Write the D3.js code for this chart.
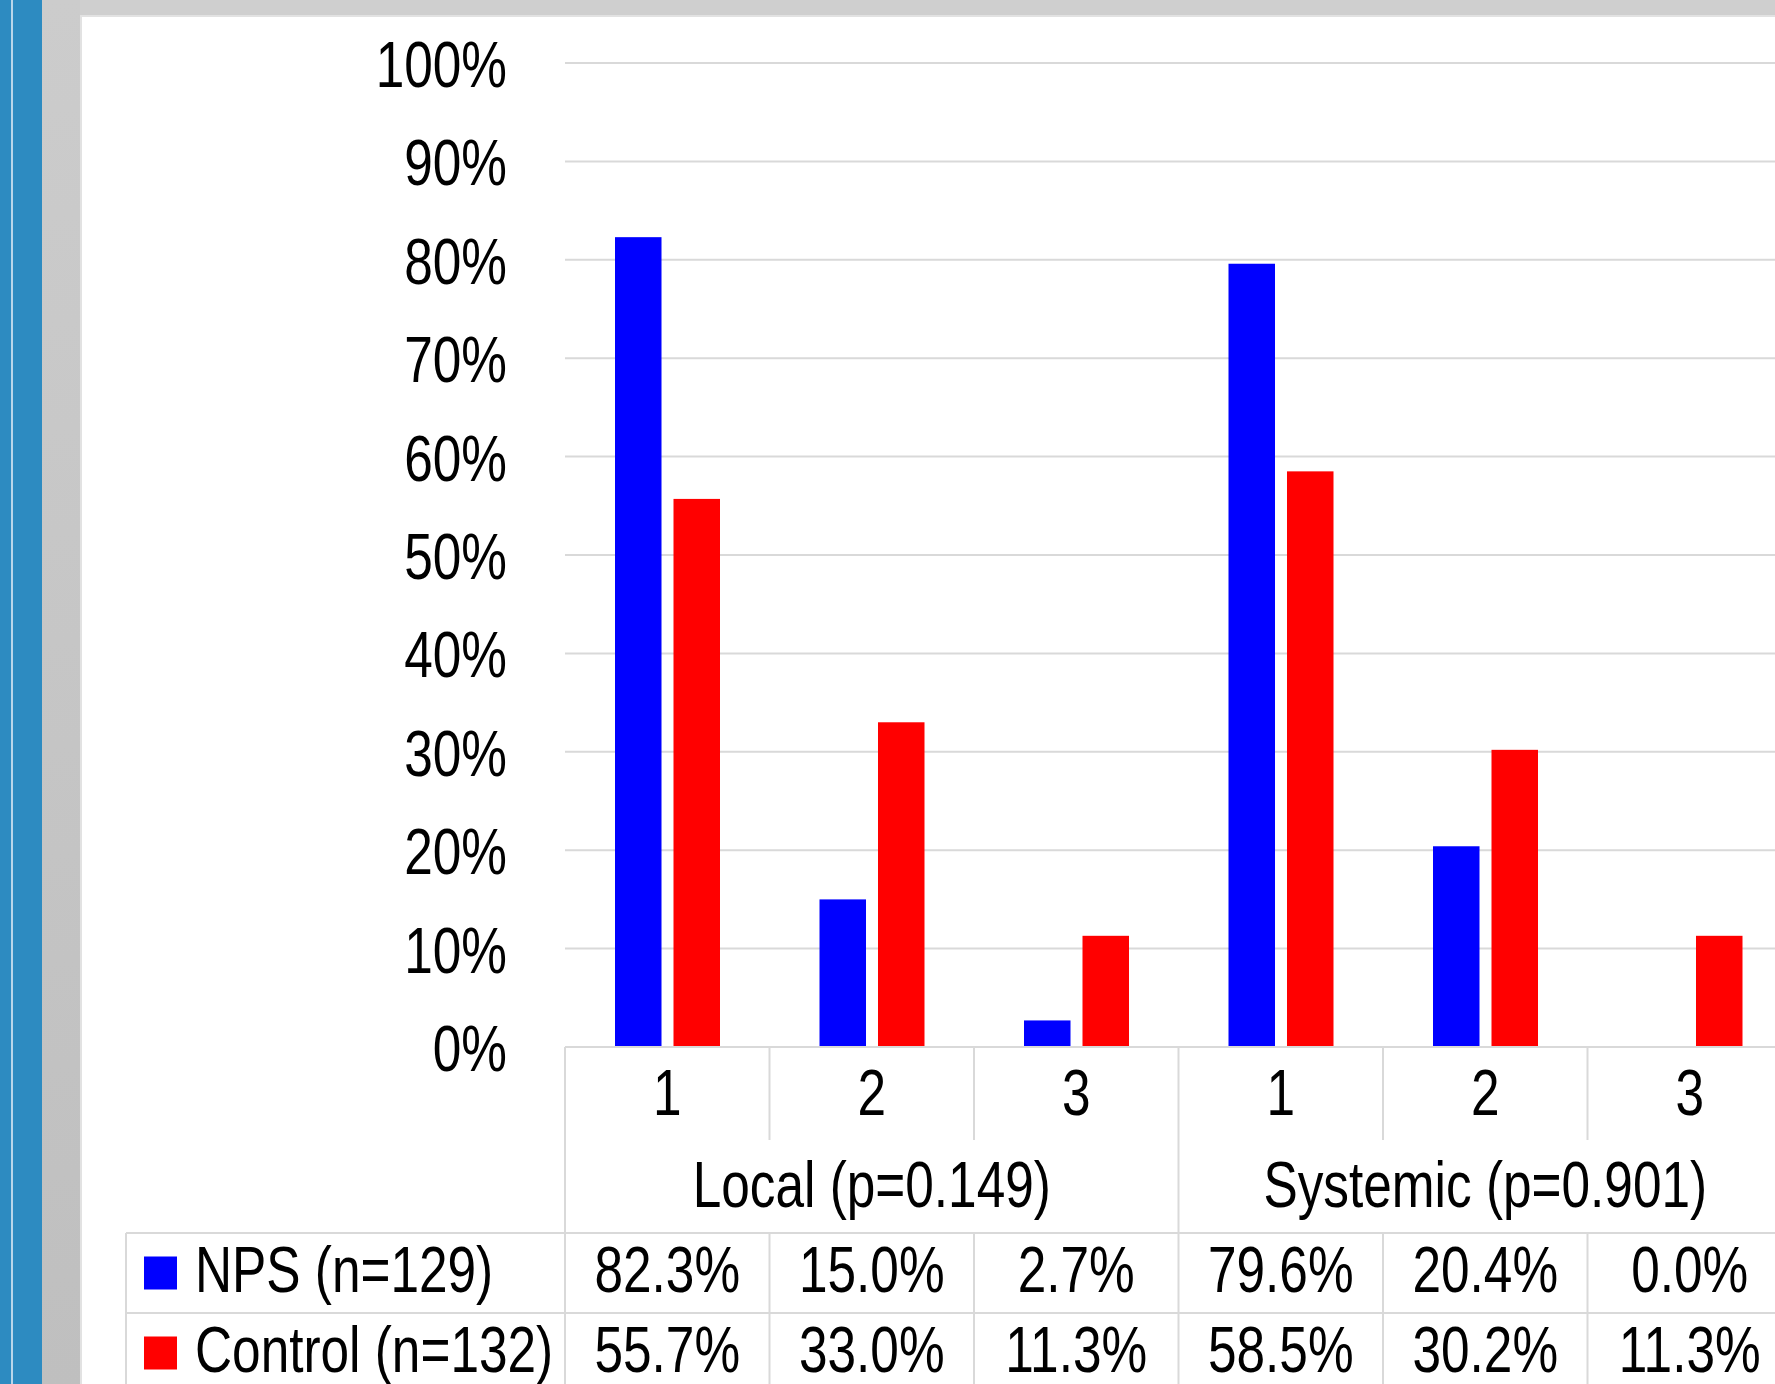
<!DOCTYPE html>
<html>
<head>
<meta charset="utf-8">
<script src="https://cdn.jsdelivr.net/npm/d3@7"></script>
<style>
  body { margin: 0; background: #fff; }
  svg { display: block; }
  text { font-family: "Liberation Sans Narrow", "Arial Narrow", "Liberation Sans", sans-serif; fill: #000; }
</style>
</head>
<body>
<svg width="1775" height="1384"></svg>
<script>
const categories = ["1", "2", "3", "1", "2", "3"];
const groups = ["Local (p=0.149)", "Systemic (p=0.901)"];
const seriesNames = ["NPS (n=129)", "Control (n=132)"];
const seriesColors = ["#0000ff", "#ff0000"];
const npsValues = [82.3, 15.0, 2.7, 79.6, 20.4, 0.0];
const controlValues = [55.7, 33.0, 11.3, 58.5, 30.2, 11.3];
const yTicks = [0, 10, 20, 30, 40, 50, 60, 70, 80, 90, 100];

const svg = d3.select("svg"),
      width = +svg.attr("width"),
      height = +svg.attr("height");

const fontSize = 65;
const squeeze = 0.79;   // no narrow face installed, so squeeze Liberation Sans
const gridColor = "#d9d9d9";

const place = (px, py) => `translate(${px},${py}) scale(${squeeze},1)`;

// slide frame behind the chart
svg.append("rect").attr("x", 0).attr("y", 0).attr("width", 42).attr("height", height).attr("fill", "#2d8bc1");
svg.append("rect").attr("x", 11).attr("y", 0).attr("width", 2).attr("height", height).attr("fill", "#b9d6ea");
const grad = svg.append("defs").append("linearGradient")
    .attr("id", "frame").attr("x1", 0).attr("y1", 0).attr("x2", 0).attr("y2", 1);
grad.append("stop").attr("offset", "0%").attr("stop-color", "#cccccc");
grad.append("stop").attr("offset", "100%").attr("stop-color", "#bfbfbf");
svg.append("rect").attr("x", 42).attr("y", 0).attr("width", 38).attr("height", height).attr("fill", "url(#frame)");
svg.append("rect").attr("x", 80).attr("y", 0).attr("width", width - 80).attr("height", 15).attr("fill", "#cfcfcf");
svg.append("rect").attr("x", 80).attr("y", 15).attr("width", width - 80).attr("height", height - 15)
    .attr("fill", "#e2e2e2");
svg.append("rect").attr("x", 82).attr("y", 17).attr("width", width - 82).attr("height", height - 17)
    .attr("fill", "#ffffff");

const plotLeft = 565,
      step = 204.5,
      axisY = 1047;

const x = d3.scaleBand()
    .domain(d3.range(categories.length))
    .range([plotLeft, plotLeft + step * categories.length]);

const xSeries = d3.scaleBand()
    .domain([0, 1])
    .range([50, 155])
    .paddingInner(0.205);

const y = d3.scaleLinear()
    .domain([0, 100])
    .range([axisY, 63]);

const fmtTick = d => d + "%";
const fmtVal = d3.format(".1f");

// gridlines
svg.append("g")
  .selectAll("line")
  .data(yTicks.filter(d => d > 0))
  .join("line")
    .attr("x1", plotLeft)
    .attr("x2", width)
    .attr("y1", d => y(d))
    .attr("y2", d => y(d))
    .attr("stroke", gridColor)
    .attr("stroke-width", 2);

// y axis labels, no axis line
const yAxis = d3.axisLeft(y).tickValues(yTicks).tickFormat(fmtTick).tickSize(0).tickPadding(0);
svg.append("g")
    .attr("transform", "translate(507,0)")
    .call(yAxis)
    .call(g => g.select(".domain").remove())
    .call(g => g.selectAll("text")
        .attr("x", null)
        .attr("font-size", fontSize)
        .attr("font-family", null)
        .attr("dy", "0.36em")
        .attr("transform", `scale(${squeeze},1)`));

// bars
const series = [npsValues, controlValues];
svg.append("g")
  .selectAll("g")
  .data(series)
  .join("g")
    .attr("fill", (d, i) => seriesColors[i])
  .each(function(vals, si) {
    d3.select(this).selectAll("rect")
      .data(vals)
      .join("rect")
        .attr("x", (d, i) => x(i) + xSeries(si))
        .attr("width", xSeries.bandwidth())
        .attr("y", d => y(d))
        .attr("height", d => y(0) - y(d));
  });

// data table lines
const tableRight = width;
const rowCat = [axisY, 1140];
const rowNps = [1233, 1313];
const rowCtl = [1313, 1393];
const legendLeft = 126;

const lines = svg.append("g")
    .attr("stroke", gridColor)
    .attr("stroke-width", 2)
    .attr("fill", "none");

lines.append("line").attr("x1", plotLeft).attr("x2", tableRight).attr("y1", axisY).attr("y2", axisY);
[rowNps[0], rowCtl[0]].forEach(yy => {
  lines.append("line").attr("x1", legendLeft).attr("x2", tableRight).attr("y1", yy).attr("y2", yy);
});
lines.append("line").attr("x1", legendLeft).attr("x2", legendLeft).attr("y1", rowNps[0]).attr("y2", height);

// category boundaries
d3.range(categories.length + 1).forEach(i => {
  const xx = plotLeft + i * step;
  if (i % 3 === 0) {
    lines.append("line").attr("x1", xx).attr("x2", xx).attr("y1", axisY).attr("y2", height);
  } else {
    lines.append("line").attr("x1", xx).attr("x2", xx).attr("y1", axisY).attr("y2", rowCat[1]);
    lines.append("line").attr("x1", xx).attr("x2", xx).attr("y1", rowNps[0]).attr("y2", height);
  }
});

const cx = i => x(i) + x.bandwidth() / 2;

// category numbers
svg.append("g")
    .attr("text-anchor", "middle")
    .attr("font-size", fontSize)
  .selectAll("text")
  .data(categories)
  .join("text")
    .attr("transform", (d, i) => place(cx(i), 1115))
    .text(d => d);

// group labels
svg.append("g")
    .attr("text-anchor", "middle")
    .attr("font-size", fontSize)
  .selectAll("text")
  .data(groups)
  .join("text")
    .attr("transform", (d, i) => place(plotLeft + (i * 3 + 1.5) * step, 1207))
    .text(d => d);

// value rows with legend keys
const rows = [rowNps, rowCtl];
series.forEach((vals, si) => {
  const r = rows[si];
  const g = svg.append("g").attr("font-size", fontSize);
  g.append("rect")
      .attr("x", 144)
      .attr("y", (r[0] + r[1]) / 2 - 16.5)
      .attr("width", 33)
      .attr("height", 33)
      .attr("fill", seriesColors[si]);
  g.append("text")
      .attr("transform", place(195, r[0] + 59))
      .text(seriesNames[si]);
  g.selectAll("text.val")
    .data(vals)
    .join("text")
      .attr("class", "val")
      .attr("text-anchor", "middle")
      .attr("transform", (d, i) => place(cx(i), r[0] + 59))
      .text(d => fmtVal(d) + "%");
});
</script>
</body>
</html>
